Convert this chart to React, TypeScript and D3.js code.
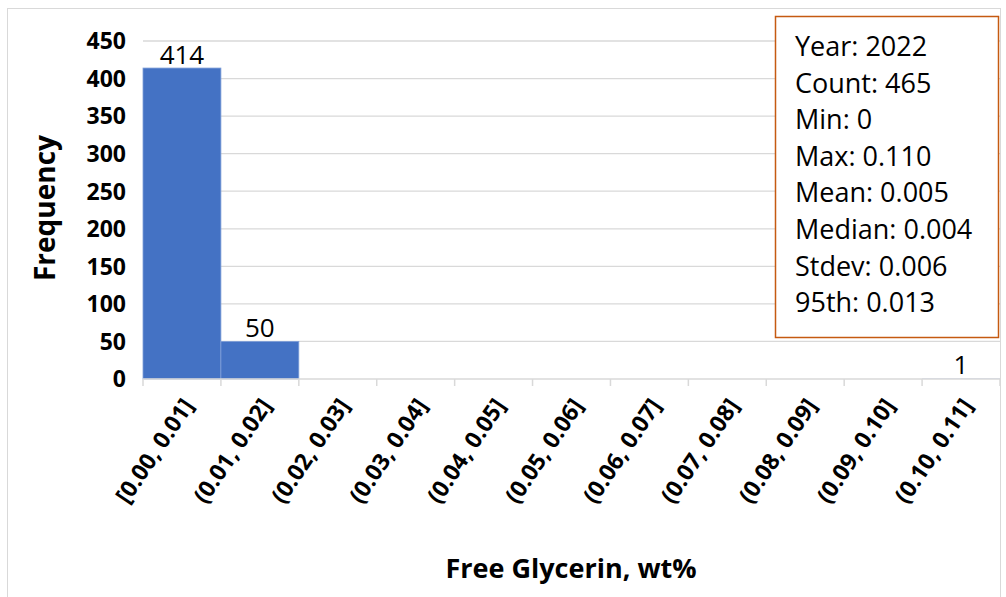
import React from "react";
import * as d3 from "d3";

const categories = [
  "[0.00, 0.01]", "(0.01, 0.02]", "(0.02, 0.03]", "(0.03, 0.04]", "(0.04, 0.05]",
  "(0.05, 0.06]", "(0.06, 0.07]", "(0.07, 0.08]", "(0.08, 0.09]", "(0.09, 0.10]", "(0.10, 0.11]",
];
const counts = [414, 50, 0, 0, 0, 0, 0, 0, 0, 0, 1];
const yTicks = [0, 50, 100, 150, 200, 250, 300, 350, 400, 450];
const statLines = [
  "Year: 2022", "Count: 465", "Min: 0", "Max: 0.110", "Mean: 0.005",
  "Median: 0.004", "Stdev: 0.006", "95th: 0.013",
];

const W = 1006, H = 597;
const plot = { left: 143, right: 1000, top: 41, bottom: 379 };
const font = "'Open Sans', sans-serif";

export default function App() {
  const x = d3.scaleBand<string>().domain(categories).range([plot.left, plot.right]).padding(0);
  const y = d3.scaleLinear().domain([0, 450]).range([plot.bottom, plot.top]);
  const bw = x.bandwidth();
  return (
    <svg width={W} height={H} style={{ position: "absolute", left: 0, top: 0, fontFamily: font }}>
      <rect x={0} y={0} width={W} height={H} fill="#fff" />
      <rect x={7.5} y={8.5} width={993} height={600} fill="#fff" stroke="#d9d9d9" strokeWidth={1} />
      {yTicks.map((t) => (
        <g key={t}>
          {t > 0 && <line x1={plot.left} x2={plot.right} y1={y(t)} y2={y(t)} stroke="#d9d9d9" strokeWidth={1.3} />}
          <text x={126} y={y(t)} dy="0.36em" textAnchor="end" fontSize={23} fontWeight="bold" fill="#000">{t}</text>
        </g>
      ))}
      {categories.map((c, i) => (
        counts[i] > 1 ? (
          <rect key={c} x={x(c)!} y={y(counts[i])} width={bw} height={plot.bottom - y(counts[i])}
            fill="#4472c4" stroke="#7f9fd8" strokeWidth={0.8} />
        ) : counts[i] > 0 ? (
          <rect key={c} x={x(c)!} y={y(counts[i])} width={bw} height={plot.bottom - y(counts[i])} fill="#4472c4" fillOpacity={0.3} />
        ) : null
      ))}
      <line x1={plot.left} x2={plot.right} y1={plot.bottom} y2={plot.bottom} stroke="#d9d9d9" strokeWidth={1.5} />
      {d3.range(categories.length + 1).map((i) => {
        const xx = plot.left + i * bw;
        return <line key={i} x1={xx} x2={xx} y1={plot.bottom} y2={plot.bottom + 7} stroke="#d9d9d9" strokeWidth={1.5} />;
      })}
      {categories.map((c, i) => (
        counts[i] > 0 ? (
          <text key={"l" + c} x={x(c)! + bw / 2} y={y(counts[i]) - 4} textAnchor="middle" fontSize={26} fill="#000">{counts[i]}</text>
        ) : null
      ))}
      {categories.map((c) => {
        const cx = x(c)! + bw / 2 + 6;
        const cy = 401;
        return (
          <text key={"t" + c} transform={`translate(${cx},${cy}) rotate(-56)`} textAnchor="end" dy="0.36em"
            fontSize={23} fontWeight="bold" fill="#000">{c}</text>
        );
      })}
      <text transform={`translate(45,${(plot.top + plot.bottom) / 2 - 2}) rotate(-90)`} textAnchor="middle" dy="0.36em"
        fontSize={28} fontWeight="bold" fill="#000">Frequency</text>
      <text x={571} y={578} textAnchor="middle" fontSize={27} fontWeight="bold" fill="#000">Free Glycerin, wt%</text>
      <rect x={775.5} y={16.5} width={223} height={321} fill="#fff" stroke="#c55a11" strokeWidth={1.5} />
      {statLines.map((s, i) => (
        <text key={s} x={795} y={56 + i * 36.6} fontSize={27} fill="#000">{s}</text>
      ))}
    </svg>
  );
}
